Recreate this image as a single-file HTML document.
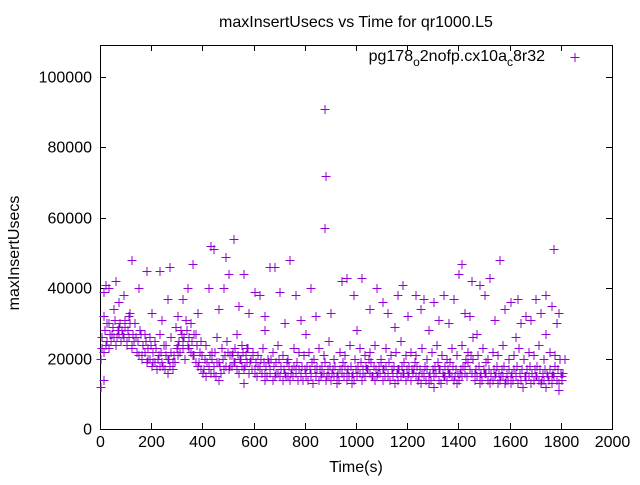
<!DOCTYPE html>
<html><head><meta charset="utf-8"><style>
body{margin:0;background:#fff}
svg text{font-family:"Liberation Sans",sans-serif;font-size:16px;fill:#000}
</style></head><body>
<svg id="chart" width="640" height="480">
<text x="356" y="27" text-anchor="middle">maxInsertUsecs vs Time for qr1000.L5</text>
<text transform="translate(19,253) rotate(-90)" text-anchor="middle">maxInsertUsecs</text>
<text x="356" y="472" text-anchor="middle">Time(s)</text>
<g id="axes"></g>
<g id="marks"></g>
<g>
<text x="545" y="61" text-anchor="end">pg178<tspan dy="5" style="font-size:12px">o</tspan><tspan dy="-5">2nofp.cx10a</tspan><tspan dy="5" style="font-size:12px">c</tspan><tspan dy="-5">8r32</tspan></text>
<path d="M570.5 57.5h9M575 53v9" stroke="#9400d3" stroke-width="1"/>
</g>
</svg>
<script>
const xTicks=[0,200,400,600,800,1000,1200,1400,1600,1800,2000];
const yTicks=[0,20000,40000,60000,80000,100000];
const bandA=[20,22,24,23,25,26,24,27,25,26, 24,26,23,25,22,21,20,22,19,20, 18,19,17,18,19,17,16,18,17,19, 21,22,23,20,24,22,21,19,18,17, 16,15,17,16,18,15,14,16,17,18, 17,18,19,17,16,18,17,19,16,17, 16,15,17,16,14,15,16,14,15,16, 15,14,16,15,14,15,16,14,15,14, 15,14,16,13,15,14,15,16,14,15, 14,15,13,14,16,15,14,15,13,14, 15,16,14,15,17,16,15,14,15,16, 14,15,16,14,15,13,14,15,16,14, 15,14,16,15,14,13,15,14,13,14, 15,16,14,13,15,14,16,15,14,13, 14,15,16,15,17,16,14,15,13,14, 16,14,13,14,15,13,14,15,13,14, 13,14,15,13,14,12,14,15,13,14, 15,14,13,14,12,14,13,15,14,13, 14];
const bandB=[26,28,30,27,29,31,28,30,27,29, 28,30,27,26,25,27,24,25,23,24, 22,23,21,22,24,21,20,22,21,23, 25,27,26,28,26,25,27,24,22,21, 20,19,21,20,22,19,18,20,21,22, 21,22,23,21,20,22,21,23,20,21, 19,18,20,19,18,19,20,18,19,20, 18,17,19,18,17,18,19,17,18,17, 18,17,19,17,18,17,18,19,17,18, 17,18,16,17,19,18,17,18,16,17, 18,19,17,18,20,19,18,17,18,19, 17,18,19,17,18,16,17,18,19,17, 18,17,19,18,17,16,18,17,16,17, 18,19,17,16,18,17,19,18,17,16, 17,18,20,19,21,20,17,18,16,17, 19,17,16,17,18,16,17,18,16,17, 16,17,18,16,17,15,17,18,16,17, 18,17,16,17,15,17,16,18,17,16, 16];
const bandC=[23,25,27,26,28,25,24,22,21,20, 19,20,18,20,19,24,25,23,21,19, 17,18,16,19,17,18,19,20,18,19, 17,18,16,17,16,17,15,16,17,16, 16,15,17,16,15,16,15,17,16,15, 17,16,17,15,16,17,15,16,17,16, 16,17,15,16,15,16,17,15,16,15, 16,18,17,16,15,16,15,16,15,14, 15,16,14,15,16,15,14,16,15,14, 15];
const bandD=[32,30,34,29,31,33,30,28,27,26, 25,27,24,26,29,28,31,30,27,25, 24,22,26,23,25,21,27,24,23,22, 21,23,20,22,24,21,20,23,22,21, 22,20,23,21,25,20,22,21,24,20, 23,21,22,24,20,23,21,22,25,21, 22,21,23,20,22,24,21,20,23,21, 24,22,26,21,23,20,22,21,24,20, 21,23,20,22,21,24,20,22,21,20, 20];
const outT=[875,880,875,520,430,440,1770,490,120,1560,360,740,180,230,270,660,680,1410,1520,960,1020,1400,20,60,10,30,90,150,260,320,340,420,480,500,560,600,620,700,760,820,940,990,1080,1100,1160,1180,1230,1260,1300,1340,1380,1450,1480,1500,1600,1630,1660,1700,1740,1790,1760,50,70,200,300,380,460,540,580,640,720,780,840,900,1050,1120,1200,1250,1320,1360,1420,1440,1540,1580,1640,1680,1720,1780,110,240,640,800,1000,1150,1280,1470,1620,1740,10,0,1790,560,1300];
const outV=[91,72,57,54,52,51,51,49,48,48,47,48,45,45,46,46,46,47,43,43,43,44,41,42,39,40,38,40,37,37,40,40,40,44,44,39,38,39,38,40,42,38,40,36,38,41,38,37,36,38,37,42,41,38,36,37,32,37,38,33,35,34,36,33,32,33,34,35,33,32,30,31,32,33,34,33,32,34,31,30,33,32,31,34,30,31,33,30,32,31,28,27,28,29,28,27,26,27,14,12,11,13,12];
const X0=100,X1=612,Y0=429,Y1=77;
const sx=t=>X0+(X1-X0)*t/2000;
const sy=v=>Y0-(Y0-Y1)*v/100000;
const NS="http://www.w3.org/2000/svg";
const axes=document.getElementById('axes'),marks=document.getElementById('marks');
function mk(tag,attrs,parent){const e=document.createElementNS(NS,tag);for(const k in attrs)e.setAttribute(k,attrs[k]);parent.appendChild(e);return e;}
const frame=mk('rect',{x:X0+.5,y:Y1-32+.5,width:X1-X0,height:Y0-Y1+32,fill:'none',stroke:'#000'},axes);


xTicks.forEach(t=>{const x=Math.round(sx(t))+.5;
 const tk=mk('path',{d:`M${x} ${Y0}v-6M${x} ${Y1-32}v6`,stroke:'#000'},axes);
 
 
 const l=mk('text',{x:x,y:Y0+18,'text-anchor':'middle'},axes);l.textContent=t;
 
 });
yTicks.forEach(v=>{const y=Math.round(sy(v))+.5;
 const tk=mk('path',{d:`M${X0} ${y}h6M${X1} ${y}h-6`,stroke:'#000'},axes);
 
 
 const l=mk('text',{x:X0-8,y:y+5,'text-anchor':'end'},axes);l.textContent=v;
 
 });
let d='';
function add(t,v){const x=Math.round(sx(t))+.5,y=Math.round(sy(v*1000))+.5;d+=`M${x-4} ${y}h9M${x+.5} ${y-4.5}v9`;}
bandA.forEach((v,i)=>add(i*10,v));
bandB.forEach((v,i)=>add(i*10+5,v));
bandC.forEach((v,i)=>add(i*20+2,v));
bandD.forEach((v,i)=>add(i*20+12,v));
outT.forEach((t,i)=>add(t,outV[i]));
const p=mk('path',{d:d,stroke:'#9400d3','stroke-width':1,fill:'none'},marks);


</script>
</body></html>
